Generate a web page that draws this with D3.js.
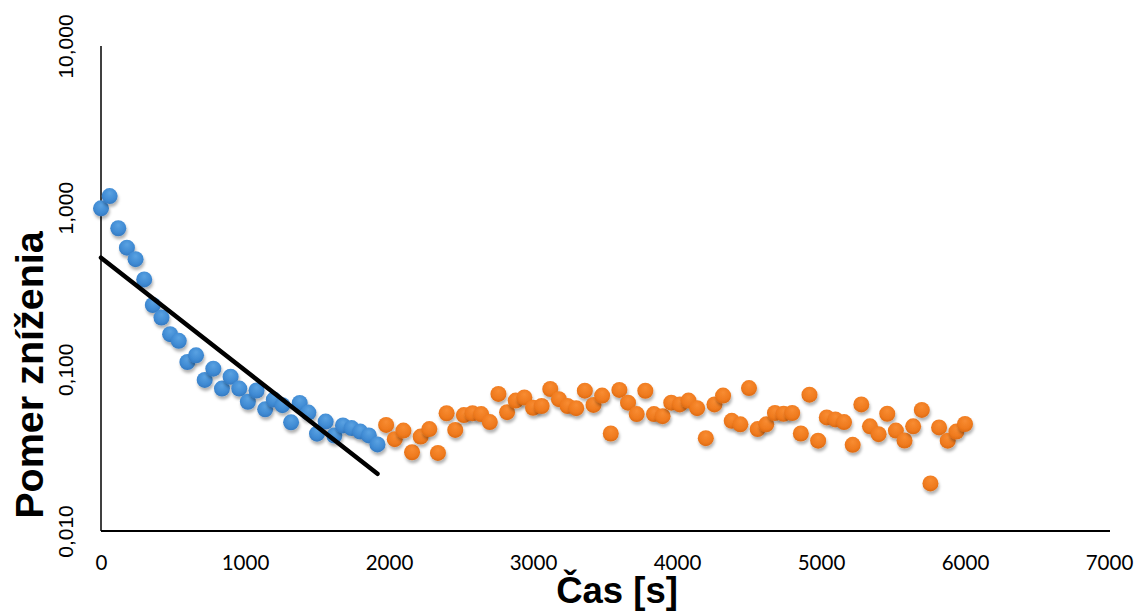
<!DOCTYPE html>
<html>
<head>
<meta charset="utf-8">
<script src="https://cdn.jsdelivr.net/npm/d3@7"></script>
<style>
  html, body { margin: 0; padding: 0; background: #fff; }
  svg { display: block; }
</style>
</head>
<body>
<svg id="chart" width="1137" height="611"></svg>
<script>
// ---- data ----
const timeBlue = [0, 60, 120, 180, 240, 300, 360, 420, 480, 540, 600, 660, 720, 780, 840, 900, 960, 1020, 1080, 1140, 1200, 1260, 1320, 1380, 1440, 1500, 1560, 1620, 1680, 1740, 1800, 1860, 1920];
const ratioBlue = [0.99, 1.18, 0.746, 0.566, 0.48, 0.36, 0.25, 0.209, 0.165, 0.15, 0.111, 0.122, 0.086, 0.101, 0.076, 0.090, 0.076, 0.063, 0.074, 0.0566, 0.065, 0.060, 0.047, 0.062, 0.054, 0.040, 0.0475, 0.0389, 0.045, 0.0433, 0.0412, 0.039, 0.0343];

const timeOrange = [1980, 2040, 2100, 2160, 2220, 2280, 2340, 2400, 2460, 2520, 2580, 2640, 2700, 2760, 2820, 2880, 2940, 3000, 3060, 3120, 3180, 3240, 3300, 3360, 3420, 3480, 3540, 3600, 3660, 3720, 3780, 3840, 3900, 3960, 4020, 4080, 4140, 4200, 4260, 4320, 4380, 4440, 4500, 4560, 4620, 4680, 4740, 4800, 4860, 4920, 4980, 5040, 5100, 5160, 5220, 5280, 5340, 5400, 5460, 5520, 5580, 5640, 5700, 5760, 5820, 5880, 5940, 6000];
const ratioOrange = [0.0453, 0.0370, 0.0418, 0.0307, 0.0384, 0.0427, 0.0304, 0.0535, 0.0422, 0.0521, 0.0535, 0.0529, 0.0472, 0.0705, 0.0543, 0.0641, 0.0670, 0.0578, 0.0593, 0.0756, 0.0654, 0.0593, 0.0575, 0.0738, 0.0602, 0.0688, 0.0401, 0.0746, 0.0622, 0.0529, 0.0737, 0.0529, 0.0513, 0.0622, 0.0607, 0.0641, 0.0575, 0.0375, 0.0607, 0.0688, 0.0480, 0.0457, 0.0766, 0.0427, 0.0457, 0.0537, 0.0531, 0.0537, 0.0401, 0.0697, 0.0362, 0.0504, 0.0490, 0.0472, 0.0341, 0.0607, 0.0444, 0.0397, 0.0531, 0.0418, 0.0363, 0.0444, 0.0561, 0.0197, 0.0437, 0.0362, 0.0412, 0.0459];

const trendTime = [0, 1920];
const trendRatio = [0.49, 0.0226];

const xTicks = [0, 1000, 2000, 3000, 4000, 5000, 6000, 7000];
const yTicks = [0.01, 0.1, 1, 10];
const yTickLabels = ["0,010", "0,100", "1,000", "10,000"];

const xTitle = "Čas [s]";
const yTitle = "Pomer zníženia";

// ---- drawing ----
const svg = d3.select("#chart");
const x = d3.scaleLinear().domain([0, 7000]).range([101, 1109]);
const y = d3.scaleLog().domain([0.01, 10]).range([531, 46]);

const defs = svg.append("defs");
const shadow = defs.append("filter").attr("id", "shadow")
  .attr("x", "-50%").attr("y", "-50%").attr("width", "200%").attr("height", "200%");
shadow.append("feDropShadow").attr("dx", 1).attr("dy", 3).attr("stdDeviation", 1.8)
  .attr("flood-color", "#000").attr("flood-opacity", 0.3);

function grad(id, light, base, dark) {
  const g = defs.append("radialGradient").attr("id", id)
    .attr("cx", "50%").attr("cy", "38%").attr("r", "62%").attr("fx", "50%").attr("fy", "30%");
  g.append("stop").attr("offset", "0%").attr("stop-color", light);
  g.append("stop").attr("offset", "70%").attr("stop-color", base);
  g.append("stop").attr("offset", "100%").attr("stop-color", dark);
}
grad("gBlue", "#5aa2e2", "#3f8ad3", "#3479c0");
grad("gOrange", "#f88c32", "#ef7a1e", "#dc6a12");

// axes
const xAxis = d3.axisBottom(x).tickValues(xTicks).tickSize(0).tickFormat(d3.format("d"));
const gx = svg.append("g").attr("transform", "translate(0,531)").call(xAxis);
gx.select(".domain").attr("stroke", "#000").attr("stroke-width", 2).attr("d", "M101,0H1110");
gx.selectAll("text").attr("y", 39).attr("dy", 0)
  .attr("font-family", "Lato, 'Liberation Sans', sans-serif").attr("font-size", 20.5).attr("fill", "#000");

const yAxis = d3.axisLeft(y).tickValues(yTicks).tickSize(0)
  .tickFormat(d => yTickLabels[yTicks.indexOf(d)]);
const gy = svg.append("g").attr("transform", "translate(101,0)").call(yAxis);
gy.select(".domain").attr("stroke", "#000").attr("stroke-width", 1.5).attr("d", "M0,46V531");
gy.selectAll("text").attr("transform", "rotate(-90)").attr("x", 0).attr("y", -28).attr("dy", 0)
  .attr("text-anchor", "middle")
  .attr("font-family", "'Liberation Sans', Arial, sans-serif").attr("font-size", 21).attr("fill", "#000");

// points
svg.append("g").selectAll("circle").data(timeBlue.map((t, i) => [t, ratioBlue[i]])).join("circle")
  .attr("cx", d => x(d[0])).attr("cy", d => y(d[1])).attr("r", 8)
  .attr("fill", "url(#gBlue)").attr("filter", "url(#shadow)");
svg.append("g").selectAll("circle").data(timeOrange.map((t, i) => [t, ratioOrange[i]])).join("circle")
  .attr("cx", d => x(d[0])).attr("cy", d => y(d[1])).attr("r", 8)
  .attr("fill", "url(#gOrange)").attr("filter", "url(#shadow)");

// trend line
svg.append("path").datum(trendTime.map((t, i) => [t, trendRatio[i]]))
  .attr("d", d3.line().x(d => x(d[0])).y(d => y(d[1])))
  .attr("stroke", "#000").attr("stroke-width", 4.5).attr("fill", "none").attr("stroke-linecap", "round");

// titles
svg.append("text").attr("x", 617).attr("y", 603).attr("text-anchor", "middle")
  .attr("font-family", "'Liberation Sans', Arial, sans-serif").attr("font-weight", "bold").attr("font-size", 36.5)
  .attr("fill", "#000").text(xTitle);
svg.append("text").attr("transform", "translate(43,375) rotate(-90)").attr("text-anchor", "middle")
  .attr("font-family", "'Liberation Sans', Arial, sans-serif").attr("font-weight", "bold").attr("font-size", 39.5)
  .attr("fill", "#000").text(yTitle);
</script>
</body>
</html>
